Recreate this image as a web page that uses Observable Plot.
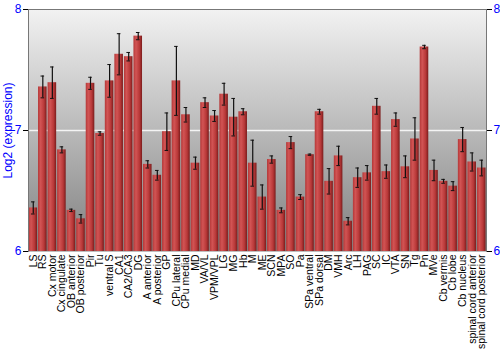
<!DOCTYPE html>
<html>
<head>
<meta charset="utf-8">
<script src="https://cdn.jsdelivr.net/npm/d3@7"></script>
<script src="https://cdn.jsdelivr.net/npm/@observablehq/plot@0.6"></script>
<style>
  body { margin: 0; background: white; }
</style>
</head>
<body>
<div id="chart"></div>
<script>
const regions = ["LS","RS","Cx motor","Cx cingulate","OB anterior","OB posterior","Pir","Tu","ventral S","CA1","CA2/CA3","DG","A anterior","A posterior","GP","CPu lateral","CPu medial","MD","VA/VL","VPM/VPL","LG","MG","Hb","M","ME","SCN","MPA","SO","Pa","SPa ventral","SPa dorsal","DM","VMH","Arc","LH","PAG","SC","IC","VTA","SN","Tg","Pn","MVe","Cb vermis","Cb lobe","Cb nucleus","spinal cord anterior","spinal cord posterior"];
const means = [6.36,7.36,7.395,6.84,6.34,6.27,7.39,6.975,7.41,7.63,7.61,7.78,6.72,6.63,6.99,7.41,7.13,6.73,7.23,7.12,7.30,7.11,7.155,6.73,6.45,6.76,6.34,6.90,6.45,6.80,7.155,6.58,6.79,6.25,6.61,6.65,7.20,6.66,7.09,6.70,6.93,7.69,6.67,6.58,6.54,6.925,6.74,6.69];
const errors = [0.05,0.09,0.13,0.025,0.01,0.035,0.05,0.014,0.135,0.17,0.035,0.03,0.03,0.04,0.155,0.285,0.06,0.05,0.04,0.045,0.09,0.155,0.025,0.19,0.10,0.03,0.02,0.05,0.02,0.005,0.02,0.105,0.08,0.03,0.08,0.06,0.065,0.055,0.055,0.09,0.175,0.014,0.085,0.016,0.037,0.10,0.075,0.065];
const yTicks = [6, 7, 8];
const yLabel = "Log2 (expression)";

const data = regions.map((r, i) => ({region: r, mean: means[i], lo: means[i] - errors[i], hi: means[i] + errors[i]}));

const chart = Plot.plot({
  width: 500,
  height: 350,
  marginLeft: 28,
  marginRight: 14,
  marginTop: 9,
  marginBottom: 99,
  style: {fontFamily: "'Liberation Sans', Arial, sans-serif", background: "white"},
  x: {domain: regions, paddingInner: 0.1, paddingOuter: 0.05, round: false},
  y: {domain: [6, 8]},
  marks: [
    Plot.frame({fill: "url(#bgGrad)", stroke: null}),
    Plot.ruleY([7], {stroke: "#f4f4f4", strokeWidth: 1.5}),
    Plot.barY(data, {x: "region", y1: 6, y2: "mean", fill: "url(#barGrad)"}),
    Plot.ruleX(data, {x: "region", y1: "lo", y2: "hi", stroke: "#111", strokeWidth: 1.2}),
    Plot.tickY(data, {x: "region", y: "lo", stroke: "#111", insetLeft: 2.5, insetRight: 2.5}),
    Plot.tickY(data, {x: "region", y: "hi", stroke: "#111", insetLeft: 2.5, insetRight: 2.5}),
    Plot.frame({anchor: "top", stroke: "#777"}),
    Plot.frame({anchor: "left", stroke: "#777"}),
    Plot.frame({anchor: "right", stroke: "#777"}),
    Plot.axisY({anchor: "left", ticks: yTicks, tickFormat: d3.format("d"), tickSize: 5, tickPadding: 2, fill: "blue", stroke: "black", fontSize: 12, label: null}),
    Plot.axisY({anchor: "right", ticks: yTicks, tickFormat: d3.format("d"), tickSize: 5, tickPadding: 2, fill: "blue", stroke: "black", fontSize: 12, label: null}),
    Plot.axisX({tickRotate: -90, textAnchor: "end", lineAnchor: "middle", tickSize: 0, tickPadding: 3, fontSize: 10.5, fill: "black", label: null}),
    Plot.text([yLabel], {frameAnchor: "left", textAnchor: "middle", rotate: -90, dx: -20, fill: "blue", fontSize: 12})
  ]
});

const svg = d3.select(chart);
const defs = svg.insert("defs", ":first-child");
const bg = defs.append("linearGradient").attr("id", "bgGrad").attr("x1", 0).attr("y1", 0).attr("x2", 0).attr("y2", 1);
bg.append("stop").attr("offset", "0%").attr("stop-color", "#f2f2f2");
bg.append("stop").attr("offset", "100%").attr("stop-color", "#808080");
const bar = defs.append("linearGradient").attr("id", "barGrad").attr("x1", 0).attr("y1", 0).attr("x2", 1).attr("y2", 0);
bar.append("stop").attr("offset", "0%").attr("stop-color", "#b43838");
bar.append("stop").attr("offset", "30%").attr("stop-color", "#d25454");
bar.append("stop").attr("offset", "70%").attr("stop-color", "#b83838");
bar.append("stop").attr("offset", "100%").attr("stop-color", "#7a1c1c");

document.getElementById("chart").appendChild(chart);
</script>
</body>
</html>
